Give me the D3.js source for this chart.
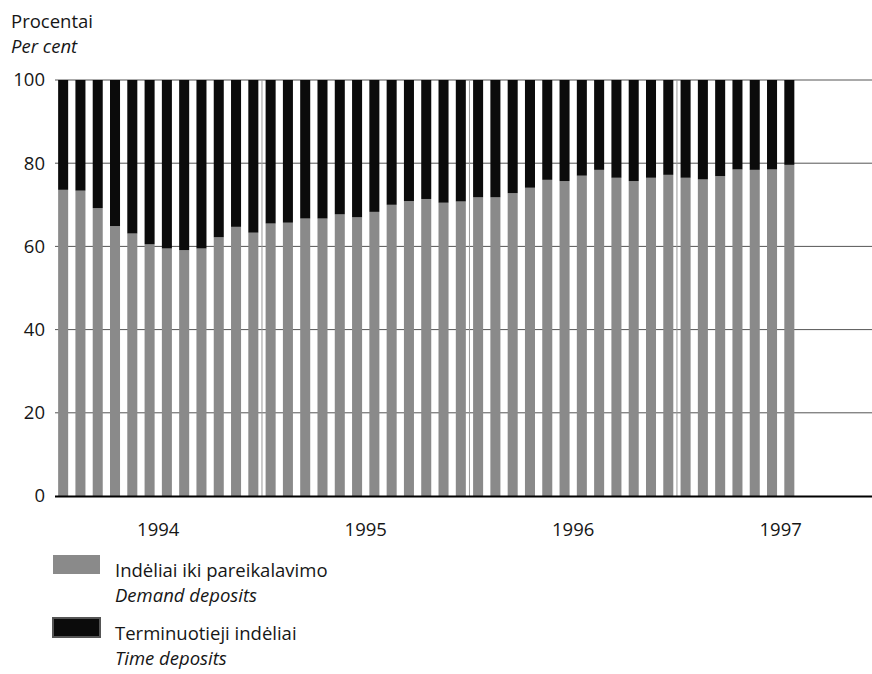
<!DOCTYPE html>
<html>
<head>
<meta charset="utf-8">
<script src="https://cdn.jsdelivr.net/npm/d3@7"></script>
<style>
  body { margin: 0; background: #fff; }
  svg { display: block; font-family: "Open Sans", "Lato", sans-serif; }
</style>
</head>
<body>
<svg id="chart" width="872" height="674"></svg>
<script>
// ---- Data ----
const years = ["1994", "1995", "1996", "1997"];
const months = [
  "1994-01","1994-02","1994-03","1994-04","1994-05","1994-06","1994-07","1994-08","1994-09","1994-10","1994-11","1994-12",
  "1995-01","1995-02","1995-03","1995-04","1995-05","1995-06","1995-07","1995-08","1995-09","1995-10","1995-11","1995-12",
  "1996-01","1996-02","1996-03","1996-04","1996-05","1996-06","1996-07","1996-08","1996-09","1996-10","1996-11","1996-12",
  "1997-01","1997-02","1997-03","1997-04","1997-05","1997-06","1997-07"
];
// Demand deposits share (%)
const demand = [
  73.6, 73.4, 69.2, 64.9, 63.1, 60.5, 59.5, 59.1, 59.5, 62.2, 64.7, 63.3,
  65.5, 65.7, 66.7, 66.7, 67.7, 67.0, 68.3, 70.0, 70.9, 71.4, 70.5, 70.8,
  71.8, 71.8, 72.8, 74.1, 76.0, 75.7, 77.0, 78.4, 76.5, 75.7, 76.5, 77.2,
  76.5, 76.1, 76.9, 78.5, 78.4, 78.5, 79.6
];
// Time deposits share (%)
const time = [
  26.4, 26.6, 30.8, 35.1, 36.9, 39.5, 40.5, 40.9, 40.5, 37.8, 35.3, 36.7,
  34.5, 34.3, 33.3, 33.3, 32.3, 33.0, 31.7, 30.0, 29.1, 28.6, 29.5, 29.2,
  28.2, 28.2, 27.2, 25.9, 24.0, 24.3, 23.0, 21.6, 23.5, 24.3, 23.5, 22.8,
  23.5, 23.9, 23.1, 21.5, 21.6, 21.5, 20.4
];
const yTicks = [0, 20, 40, 60, 80, 100];
const seriesNames = [
  ["Indėliai iki pareikalavimo", "Demand deposits"],
  ["Terminuotieji indėliai", "Time deposits"]
];
const colors = ["#8a8a8a", "#0b0b0b"];

(function () {
const svg = d3.select("#chart");
const mLeft = 55, mRight = 872, mTop = 80, mBottom = 496;
const stepEst = 17.29;
const fs = 18.5, txt = "#161616";

const x = d3.scaleBand()
  .domain(months)
  .range([54.5, 54.5 + months.length * stepEst])
  .paddingInner(0.42)
  .paddingOuter(0.21);
const step = x.step();
const x0 = x.range()[0];

const y = d3.scaleLinear().domain([0, 100]).range([mBottom, mTop]);

// gridlines
svg.append("g").selectAll("line")
  .data(yTicks.filter(d => d > 0))
  .join("line")
  .attr("x1", mLeft).attr("x2", mRight)
  .attr("y1", d => y(d)).attr("y2", d => y(d))
  .attr("stroke", "#555").attr("stroke-width", 1);

// stacked data
const rows = months.map((m, i) => ({ month: m, demand: demand[i], time: time[i] }));
const stack = d3.stack().keys(["demand", "time"])(rows);

svg.append("g").selectAll("g")
  .data(stack)
  .join("g")
  .attr("fill", (d, i) => colors[i])
  .selectAll("rect")
  .data(d => d)
  .join("rect")
  .attr("x", d => x(d.data.month))
  .attr("width", x.bandwidth())
  .attr("y", d => y(d[1]))
  .attr("height", d => y(d[0]) - y(d[1]));

// year separators
svg.append("g").selectAll("line")
  .data(years.slice(1))
  .join("line")
  .attr("x1", (d, i) => x0 + (i + 1) * 12 * step)
  .attr("x2", (d, i) => x0 + (i + 1) * 12 * step)
  .attr("y1", y(100)).attr("y2", y(0))
  .attr("stroke", "#9a9a9a").attr("stroke-width", 1);

// baseline
svg.append("line")
  .attr("x1", mLeft).attr("x2", mRight)
  .attr("y1", y(0) + 0.5).attr("y2", y(0) + 0.5)
  .attr("stroke", "#000").attr("stroke-width", 2);

// y axis labels
const yAxis = d3.axisLeft(y).tickValues(yTicks).tickSize(0).tickPadding(10);
const ya = svg.append("g").attr("transform", `translate(${mLeft},0)`).call(yAxis);
ya.select(".domain").remove();
ya.selectAll("text")
  .attr("font-size", fs)
  .attr("font-family", "'Open Sans', sans-serif")
  .attr("fill", txt);

// year labels
svg.append("g").selectAll("text")
  .data(years)
  .join("text")
  .attr("x", (d, i) => x0 + (i * 12 + 6) * step)
  .attr("y", 536)
  .attr("text-anchor", "middle")
  .attr("font-size", fs)
  .attr("fill", txt)
  .text(d => d);

// y title
svg.append("text").attr("x", 11).attr("y", 28).attr("font-size", fs).attr("fill", txt).text("Procentai");
svg.append("text").attr("x", 11).attr("y", 53).attr("font-size", fs).attr("font-style", "italic").attr("fill", txt).text("Per cent");

// legend
const legend = svg.append("g");
const legY = [555, 618];
seriesNames.forEach((names, i) => {
  const g = legend.append("g").attr("transform", `translate(53,${legY[i]})`);
  g.append("rect").attr("width", 47).attr("height", 19).attr("fill", colors[i])
    .attr("stroke", i === 1 ? "#555" : "none").attr("stroke-width", 2);
  g.append("text").attr("x", 62).attr("y", 22).attr("font-size", fs).attr("fill", txt).text(names[0]);
  g.append("text").attr("x", 62).attr("y", 47).attr("font-size", fs).attr("font-style", "italic").attr("fill", txt).text(names[1]);
});
})();
</script>
</body>
</html>
